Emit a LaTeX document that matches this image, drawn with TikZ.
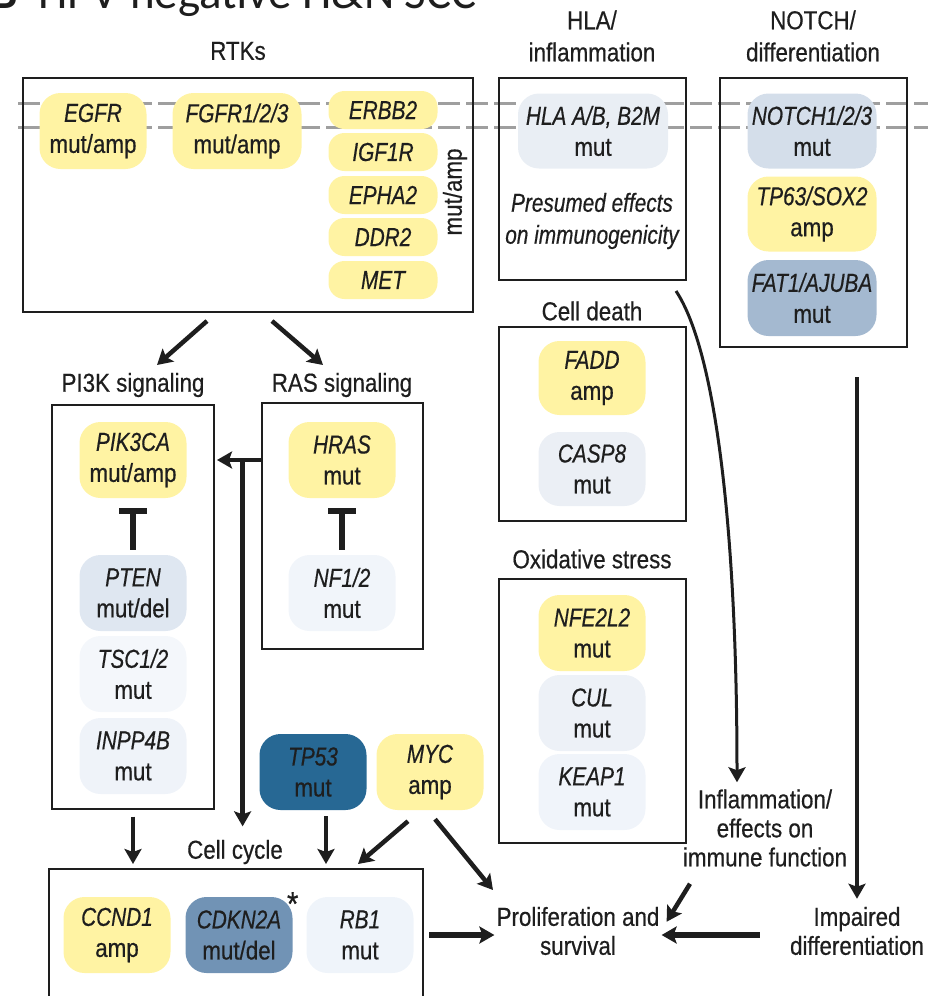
\documentclass[tikz,border=0pt]{standalone}
\usepackage{fontspec}
\setmainfont{Liberation Sans}[FakeStretch=0.86, FakeBold=0.5, ItalicFeatures={FakeStretch=0.8}]
\newfontfamily\headfont{Carlito}
\usetikzlibrary{arrows.meta,calc}
\definecolor{ink}{HTML}{1E1E1E}
\definecolor{ylw}{HTML}{FFF3A3}
\definecolor{hlac}{HTML}{E9EEF4}
\definecolor{notc}{HTML}{D4DEEA}
\definecolor{fatc}{HTML}{A4B9D0}
\definecolor{ptenc}{HTML}{DFE7F1}
\definecolor{tscc}{HTML}{F4F7FB}
\definecolor{inppc}{HTML}{EFF3F9}
\definecolor{nfc}{HTML}{F1F5FA}
\definecolor{caspc}{HTML}{EBEFF5}
\definecolor{culc}{HTML}{EDF1F7}
\definecolor{keapc}{HTML}{F0F4FA}
\definecolor{tpc}{HTML}{276894}
\definecolor{cdknc}{HTML}{7193B5}
\definecolor{rbc}{HTML}{EFF4FA}
\newcommand{\gn}[2]{\textit{#1}\\#2}
\begin{document}
\begin{tikzpicture}[x=1pt, y=-1pt, font=\fontsize{26}{29}\selectfont, text=ink,
  pill/.style={fill=#1, rounded corners=21pt, align=center, inner sep=0pt, minimum width=107pt, minimum height=76pt, font=\fontsize{26}{31}\selectfont},
  bar/.style={fill=ylw, rounded corners=16pt, inner sep=0pt, minimum width=109pt, minimum height=38pt, font=\fontsize{26}{29}\selectfont\itshape},
  frame/.style={draw=ink, line width=2pt, inner sep=0pt},
  lbl/.style={align=center, inner sep=2pt},
  tl/.style={lbl, font=\fontsize{26}{32}\selectfont},
  arr/.style={-{Stealth[length=15pt,width=17pt,inset=3pt]}, line width=4.5pt, draw=ink},
  inh/.style={-{Bar[width=28pt]}, line width=6pt, draw=ink},
  memb/.style={draw=gray!75, line width=3pt, dash pattern=on 22pt off 6pt}]
\useasboundingbox (0,0) rectangle (928,996);
\node[anchor=base east, inner sep=0pt, font=\headfont\bfseries\fontsize{47}{50}\selectfont] (panel) at (18,8) {B};
\node[anchor=base west, inner sep=0pt, font=\headfont\fontsize{47}{50}\selectfont] (title) at (38,8) {HPV-negative H\&N SCC};
\draw[memb] (18,103) -- (935,103);
\draw[memb] (18,127) -- (935,127);
\node (rtkt) at (238,51) {RTKs};
\node[tl] (hlat) at (592,36) {HLA/\\inflammation};
\node[tl] (notcht) at (813,36) {NOTCH/\\differentiation};
\node[frame, minimum width=450pt, minimum height=234pt] (rtk) at (248,195) {};
\node[frame, minimum width=187pt, minimum height=202pt] (hla) at (592.5,179) {};
\node[frame, minimum width=187pt, minimum height=269pt] (notch) at (813.5,212.5) {};
\node (deatht) at (592,311) {Cell death};
\node[frame, minimum width=187pt, minimum height=194pt] (death) at (592.5,424) {};
\node (oxt) at (592,559) {Oxidative stress};
\node[frame, minimum width=187pt, minimum height=264pt] (ox) at (592.5,711) {};
\node (pit) at (133,385) {PI3K signaling};
\node[frame, minimum width=162pt, minimum height=404pt] (pi3k) at (133,606.5) {};
\node (rast) at (342,385) {RAS signaling};
\node[frame, minimum width=161pt, minimum height=246pt] (ras) at (342.5,526) {};
\node (cyclet) at (235,852) {Cell cycle};
\node[frame, minimum width=374pt, minimum height=160pt] (cycle) at (236,949) {};
\node[pill=ylw] (egfr) at (93,131) {\gn{EGFR}{mut/amp}};
\node[pill=ylw, minimum width=129pt] (fgfr) at (237,131) {\gn{FGFR1/2/3}{mut/amp}};
\node[bar] (erbb2) at (383,110) {ERBB2};
\node[bar] (igf1r) at (383,152) {IGF1R};
\node[bar] (epha2) at (383,195) {EPHA2};
\node[bar] (ddr2) at (383,237) {DDR2};
\node[bar] (met) at (383,280) {MET};
\node[rotate=90] (mutamp) at (455,192) {mut/amp};
\node[pill=hlac, minimum width=150pt, minimum height=75pt] (hlap) at (593,131) {\gn{HLA A/B, B2M}{mut}};
\node[lbl, font=\fontsize{26}{32}\selectfont\itshape] (presumed) at (592,221) {Presumed effects\\on immunogenicity};
\node[pill=notc, minimum width=129pt, minimum height=75pt] (notch1) at (812,131) {\gn{NOTCH1/2/3}{mut}};
\node[pill=ylw, minimum width=129pt, minimum height=75pt] (tp63) at (812,214) {\gn{TP63/SOX2}{amp}};
\node[pill=fatc, minimum width=129pt] (fat1) at (812,298) {\gn{FAT1/AJUBA}{mut}};
\node[pill=ylw, minimum height=74pt] (fadd) at (592,378) {\gn{FADD}{amp}};
\node[pill=caspc, minimum height=74pt] (casp8) at (592,469) {\gn{CASP8}{mut}};
\node[pill=ylw] (nfe2l2) at (592,633) {\gn{NFE2L2}{mut}};
\node[pill=culc] (cul) at (592,713) {\gn{CUL}{mut}};
\node[pill=keapc] (keap1) at (592,792) {\gn{KEAP1}{mut}};
\node[pill=ylw] (pik3ca) at (133,460) {\gn{PIK3CA}{mut/amp}};
\node[pill=ptenc] (pten) at (133,593) {\gn{PTEN}{mut/del}};
\node[pill=tscc] (tsc) at (133,674) {\gn{TSC1/2}{mut}};
\node[pill=inppc] (inpp4b) at (133,756) {\gn{INPP4B}{mut}};
\node[pill=ylw] (hras) at (342,460) {\gn{HRAS}{mut}};
\node[pill=nfc] (nf1) at (342,593) {\gn{NF1/2}{mut}};
\node[pill=tpc] (tp53) at (313,772) {\gn{TP53}{mut}};
\node[pill=ylw] (myc) at (430,772) {\gn{MYC}{amp}};
\node[pill=ylw] (ccnd1) at (117,935) {\gn{CCND1}{amp}};
\node[pill=cdknc] (cdkn2a) at (239,935) {\gn{CDKN2A}{mut/del}};
\node[pill=rbc] (rb1) at (360,935) {\gn{RB1}{mut}};
\node[inner sep=0pt, font=\fontsize{34}{34}\selectfont] (star) at ([yshift=-7pt]cdkn2a.north east) {*};
\node[lbl] (infl) at (765,828) {Inflammation/\\effects on\\immune function};
\node[lbl] (impd) at (857,931) {Impaired\\differentiation};
\node[lbl] (prolif) at (578,931) {Proliferation and\\survival};
\draw[arr] ([xshift=-41pt,yshift=-8pt]rtk.south) -- ([xshift=24pt,yshift=20pt]pit.center);
\draw[arr] ([xshift=24pt,yshift=-8pt]rtk.south) -- ([xshift=-19pt,yshift=20pt]rast.center);
\draw[inh, shorten <=5pt, shorten >=10pt] (pten.north) -- (pik3ca.south);
\draw[inh, shorten <=5pt, shorten >=10pt] (nf1.north) -- (hras.south);
\draw[arr, shorten >=2pt] (ras.west |- hras.center) -- (pi3k.east |- hras.center);
\coordinate (branch) at ($(ras.west |- hras.center)!0.4!(pi3k.east |- hras.center)$);
\draw[arr, shorten >=10pt] (branch) -- (branch |- cyclet.north);
\draw[arr, shorten >=4pt] ([yshift=-7pt]pi3k.south) -- (pi3k.south |- cycle.north);
\draw[arr, shorten >=4pt] ([xshift=13pt,yshift=-6pt]tp53.south) -- ([xshift=13pt]tp53.south |- cycle.north);
\draw[arr] ([xshift=-22pt,yshift=-11pt]myc.south) -- ([xshift=122pt,yshift=4pt]cycle.north);
\draw[arr] ([xshift=5pt,yshift=-9pt]myc.south) -- ([xshift=-85pt,yshift=41pt]prolif.center);
\draw[arr, line width=6pt, shorten <=5pt] (cycle.east |- ccnd1.center) -- (prolif.west |- ccnd1.center);
\draw[arr, line width=6pt, shorten <=28pt] (impd.west |- ccnd1.center) -- (prolif.east |- ccnd1.center);
\draw[arr] ([xshift=-75pt,yshift=-15pt]infl.south) -- ([xshift=5pt,yshift=-17pt]prolif.north east);
\draw[arr, line width=3pt] ([xshift=-11pt,yshift=-10pt]hla.south east) .. controls +(40,60) and +(0,-250) .. ([xshift=-28pt,yshift=5pt]infl.north);
\draw[arr, shorten <=29pt, shorten >=6pt] (impd.north |- notch.south) -- (impd.north);
\end{tikzpicture}
\end{document}
